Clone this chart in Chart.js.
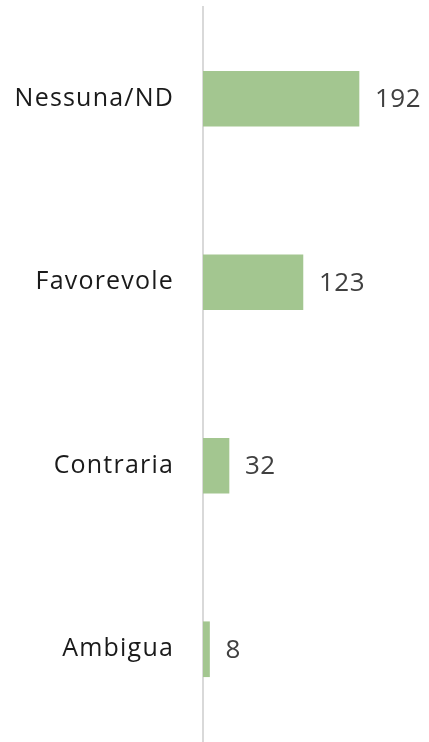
<!DOCTYPE html>
<html>
<head>
<meta charset="utf-8">
<script src="https://cdn.jsdelivr.net/npm/chart.js@4.4.1/dist/chart.umd.min.js"></script>
<style>
  html, body { margin: 0; padding: 0; background: #ffffff; }
</style>
</head>
<body>
<canvas id="c" width="429" height="742"></canvas>
<script>
// Posizione espressa nei documenti
const categories = ['Nessuna/ND', 'Favorevole', 'Contraria', 'Ambigua'];
const counts = [192, 123, 32, 8];

const BAR_COLOR = '#a3c690';
const FONT = '"Open Sans", "Liberation Sans", sans-serif';

// Slightly wider tracking for all text
const tracking = {
  id: 'tracking',
  beforeDraw(chart) { chart.ctx.letterSpacing = '1.2px'; }
};

// Value labels to the right of each bar
const valueLabels = {
  id: 'valueLabels',
  afterDatasetsDraw(chart) {
    const ctx = chart.ctx;
    const meta = chart.getDatasetMeta(0);
    ctx.save();
    ctx.letterSpacing = '0.5px';
    ctx.font = '26px ' + FONT;
    ctx.fillStyle = '#404040';
    ctx.textAlign = 'left';
    ctx.textBaseline = 'middle';
    meta.data.forEach((bar, i) => {
      ctx.fillText(String(counts[i]), bar.x + 16, bar.y + 1);
    });
    ctx.restore();
  }
};

new Chart(document.getElementById('c'), {
  type: 'bar',
  data: {
    labels: categories,
    datasets: [{
      data: counts,
      backgroundColor: BAR_COLOR,
      borderWidth: 0,
      barThickness: 55
    }]
  },
  options: {
    responsive: false,
    indexAxis: 'y',
    animation: false,
    layout: { padding: { top: 7, bottom: 1, left: 0, right: 31 } },
    plugins: { legend: { display: false }, tooltip: { enabled: false } },
    scales: {
      x: {
        display: false,
        min: 0,
        max: 240
      },
      y: {
        afterFit(scale) {
          scale.width = 203;
          scale.paddingTop = 0;
          scale.paddingBottom = 0;
        },
        grid: { display: false },
        border: { display: true, color: '#d9d9d9', width: 2 },
        ticks: {
          padding: 21,
          color: '#1a1a1a',
          font: { family: FONT, size: 25 }
        }
      }
    }
  },
  plugins: [tracking, valueLabels]
});
</script>
</body>
</html>
